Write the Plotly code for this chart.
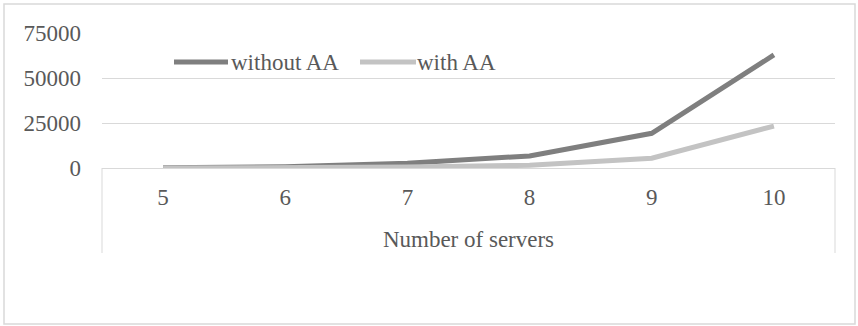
import plotly.graph_objects as go

servers = ["5", "6", "7", "8", "9", "10"]
series_names = ["without AA", "with AA"]
without_aa = [100, 700, 2700, 6700, 19300, 62800]
with_aa = [30, 150, 500, 1500, 5400, 23300]
y_ticks = [0, 25000, 50000, 75000]

W, H = 858, 326
ML, MR, MT, MB = 102, 23, 33, 158
pw, ph = W - ML - MR, H - MT - MB

font = dict(family="Liberation Serif", size=23, color="#595959")
grid = "#d9d9d9"
colors = ["#7f7f7f", "#c3c3c3"]

fig = go.Figure()
for name, vals, col in zip(series_names, [without_aa, with_aa], colors):
    fig.add_trace(go.Scatter(x=servers, y=vals, mode="lines", name=name,
                             line=dict(color=col, width=5), showlegend=False))


def px_x(x):
    return (x - ML) / pw


def px_y(y):
    return (H - MB - y) / ph


shapes = [
    # outer chart border
    dict(type="rect", xref="paper", yref="paper", x0=px_x(4), x1=px_x(855),
         y0=px_y(324), y1=px_y(4), line=dict(color=grid, width=1.5)),
    # category axis box sides
    dict(type="line", xref="paper", yref="paper", x0=0, x1=0, y0=0, y1=px_y(253),
         line=dict(color=grid, width=1)),
    dict(type="line", xref="paper", yref="paper", x0=1, x1=1, y0=0, y1=px_y(253),
         line=dict(color=grid, width=1)),
]

# inline legend: swatch line followed by series name
annotations = []
legend_y = px_y(62)
for (x0, x1, tx), name, col in zip([(174, 228, 229), (360, 416, 415)], series_names, colors):
    shapes.append(dict(type="line", xref="paper", yref="paper", x0=px_x(x0), x1=px_x(x1),
                       y0=legend_y, y1=legend_y, line=dict(color=col, width=5)))
    annotations.append(dict(text=name, xref="paper", yref="paper", x=px_x(tx), y=legend_y,
                            xanchor="left", yanchor="middle", showarrow=False, font=font))

fig.update_layout(
    width=W, height=H,
    margin=dict(l=ML, r=MR, t=MT, b=MB),
    paper_bgcolor="white", plot_bgcolor="white",
    font=font,
    shapes=shapes,
    annotations=annotations,
    showlegend=False,
    xaxis=dict(type="category", range=[-0.5, 5.5], showgrid=False,
               showline=True, linecolor=grid, linewidth=1, ticks="",
               ticklabelstandoff=8, tickfont=font,
               title=dict(text="Number of servers", font=font, standoff=22)),
    yaxis=dict(range=[0, 75000], tickvals=y_ticks, tickformat="d", showgrid=True,
               gridcolor=grid, gridwidth=1, zeroline=False, showline=False, ticks="",
               ticklabelstandoff=20, tickfont=font),
)

fig.write_html("out.html")
